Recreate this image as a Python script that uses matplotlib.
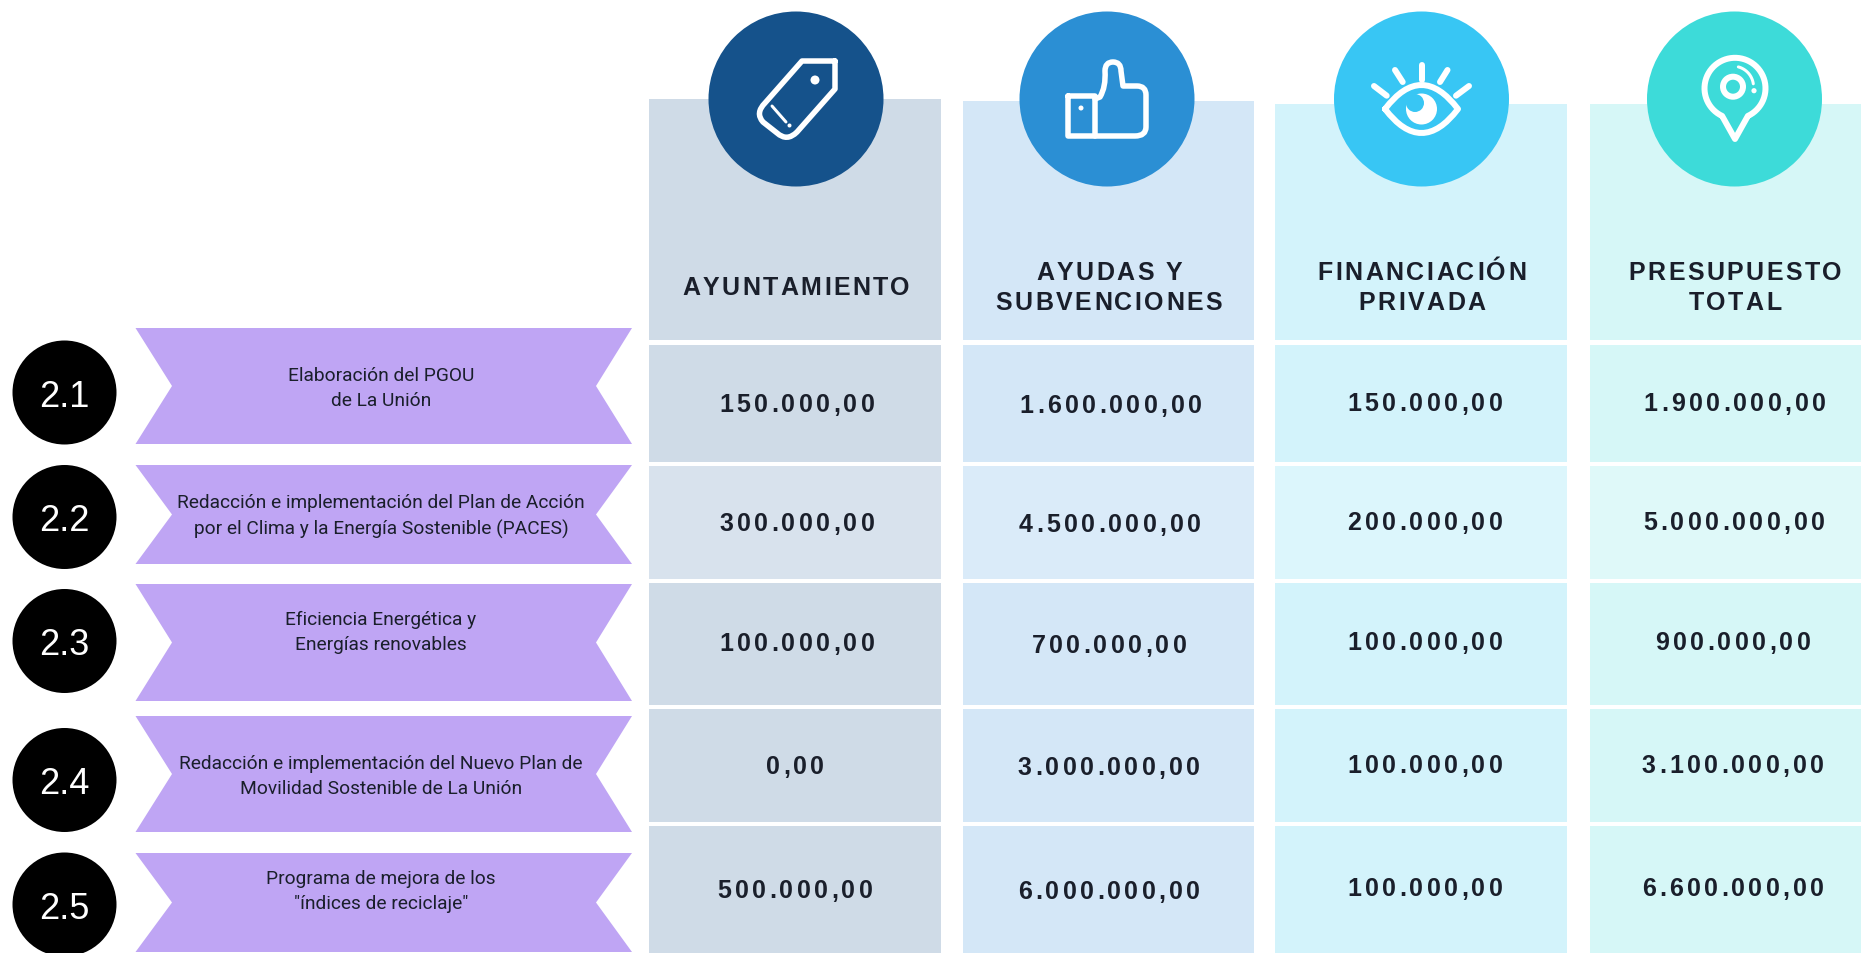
import numpy as np
import matplotlib
matplotlib.use("Agg")
import matplotlib.pyplot as plt
from matplotlib.font_manager import findfont, get_font
from matplotlib.ft2font import LoadFlags
from matplotlib.patches import Circle, Polygon, PathPatch, Rectangle
from matplotlib.path import Path
from matplotlib.text import Text

# Table content
codes = ["2.1", "2.2", "2.3", "2.4", "2.5"]
actions = [
    "Elaboración del PGOU\nde La Unión",
    "Redacción e implementación del Plan de Acción\npor el Clima y la Energía Sostenible (PACES)",
    "Eficiencia Energética y\nEnergías renovables",
    "Redacción e implementación del Nuevo Plan de\nMovilidad Sostenible de La Unión",
    "Programa de mejora de los\n\"índices de reciclaje\"",
]
headers = [
    ["AYUNTAMIENTO"],
    ["AYUDAS Y", "SUBVENCIONES"],
    ["FINANCIACIÓN", "PRIVADA"],
    ["PRESUPUESTO", "TOTAL"],
]
ayuntamiento = [150000, 300000, 100000, 0, 500000]
ayudas = [1600000, 4500000, 700000, 3000000, 6000000]
privada = [150000, 200000, 100000, 100000, 100000]
total = [1900000, 5000000, 900000, 3100000, 6600000]

# Layout in pixels of the 1861x954 picture
col_left = [649, 963, 1275, 1590]
col_right = [941, 1254, 1567, 1861]
col_top = [100, 102, 105, 105]
header_bottom = 341
row_top = [346, 467, 584, 710, 827]
row_bottom = [463, 580, 706, 823, 954]
icon_x = [796, 1107, 1421.5, 1734.5]
icon_y = 100
icon_r = 87.5
head_x = [796, 1109, 1422, 1735]
value_x = [
    [797, 797, 797, 795, 795],
    [1111, 1110, 1109, 1109, 1109],
    [1425, 1425, 1425, 1425, 1425],
    [1735, 1734, 1733, 1733, 1733],
]
value_y = [
    [404, 523, 643, 766, 890],
    [405, 524, 645, 767, 891],
    [403, 522, 642, 765, 888],
    [403, 522, 642, 765, 888],
]
ribbon_top = [329, 466, 585, 717, 854]
ribbon_bottom = [445, 565, 702, 833, 953]
ribbon_text_y = [388.5, 516.5, 632.5, 776.5, 891.5]
badge_y = [393.5, 518, 642, 781, 905.5]

# Colours
cell_colors = ["#CFDBE7", "#D4E7F7", "#D3F3FB", "#D6F7F7"]
cell_light = ["#D8E2ED", "#DAEBF9", "#DCF6FC", "#DFF9F9"]
icon_colors = ["#15528B", "#2B8FD4", "#38C6F4", "#3DDBD9"]
ribbon_color = "#BFA5F4"
ink = "#1A1F2B"


def px(w):
    return w * 0.72


def money(v):
    return f"{v:,.2f}".replace(",", "#").replace(".", ",").replace("#", ".")


class SpacedText(Text):
    """Text with letter spacing, the axes are 1:1 with pixels here."""

    track = 0

    def draw(self, renderer):
        s, x0 = self.get_text(), self._x
        font = get_font(findfont(self.get_fontproperties()))
        font.set_size(self.get_fontsize(), self.get_figure().dpi)
        adv = [font.load_char(ord(c), flags=LoadFlags.NO_HINTING).linearHoriAdvance / 65536 for c in s]
        x = x0 - (sum(adv) + self.track * (len(s) - 1)) / 2
        self.set_ha("left")
        for c, a in zip(s, adv):
            self._text, self._x = c, x
            super().draw(renderer)
            x += a + self.track
        self._text, self._x = s, x0
        self.set_ha("center")


def spaced(ax, x, y, s, track, size=18):
    t = SpacedText(x, y + 8.5, s, fontsize=size, family="Liberation Sans", weight="bold",
                   color=ink, ha="center", va="baseline", zorder=5)
    t.track = track
    ax.add_artist(t)


def line(ax, pts, w=5.5, closed=False):
    xy = np.array(pts, dtype=float)
    ax.add_patch(Polygon(xy, closed=closed, fill=False, ec="white", lw=px(w),
                         joinstyle="round", capstyle="round", zorder=4))


def curve(ax, verts, codes_, w=5.5):
    ax.add_patch(PathPatch(Path(verts, codes_), fill=False, ec="white", lw=px(w),
                           joinstyle="round", capstyle="round", zorder=4))


def dot(ax, x, y, r, color="white"):
    ax.add_patch(Circle((x, y), r, fc=color, ec="none", zorder=4))


def arc_pts(cx, cy, r, a0, a1):
    a = np.radians(np.linspace(a0, a1, 60))
    return np.column_stack([cx + r * np.cos(a), cy + r * np.sin(a)])


def tag_icon(ax):
    M, L, Q = Path.MOVETO, Path.LINETO, Path.CURVE3
    verts = [(835, 62), (802, 62), (765, 104), (755, 114), (763, 123), (777, 134),
             (787, 143), (797, 133), (835, 90), (835, 62)]
    kinds = [M, L, L, Q, Q, L, Q, Q, L, L]
    curve(ax, verts, kinds, 5.5)
    dot(ax, 815, 81, 4.5)
    line(ax, [(772, 107), (786, 123)], 3)
    dot(ax, 789.5, 126.5, 2)


def thumb_icon(ax):
    M, L, Q = Path.MOVETO, Path.LINETO, Path.CURVE3
    verts = [(1068, 97), (1095, 97), (1095, 137), (1068, 137), (1068, 97)]
    curve(ax, verts, [M, L, L, L, L], 5.5)
    dot(ax, 1081, 109, 2.5)
    verts = [(1095, 100), (1100, 98), (1106, 88), (1105, 72), (1105, 63), (1113, 63), (1121, 63), (1121, 72),
             (1123, 87), (1137, 87), (1146, 87), (1146, 96), (1146, 128), (1146, 137), (1135, 137), (1095, 137)]
    kinds = [M, L, Q, Q, Q, Q, Q, Q, L, L, Q, Q, L, Q, Q, L]
    curve(ax, verts, kinds, 5.5)


def eye_icon(ax):
    M, Q = Path.MOVETO, Path.CURVE3
    verts = [(1385, 110), (1421.5, 62), (1458, 110), (1421.5, 158), (1385, 110)]
    curve(ax, verts, [M, Q, Q, Q, Q], 6)
    dot(ax, 1421.5, 110, 15.5)
    dot(ax, 1415, 104, 9, icon_colors[2])
    rays = [((1421.7, 66), (1421.7, 81)), ((1395, 71), (1402.7, 83)), ((1447.5, 71), (1440, 83)),
            ((1374, 87), (1386.7, 96.7)), ((1469, 87), (1456, 96.7))]
    for r in rays:
        line(ax, r, 6)


def pin_icon(ax):
    head = arc_pts(1735, 89.3, 30.5, 115, 425)
    line(ax, list(head) + [(1735, 140)], 6, closed=True)
    ax.add_patch(Circle((1733, 87.7), 10, fill=False, ec="white", lw=px(6), zorder=4))
    line(ax, arc_pts(1733, 87.7, 20.5, -75, -8), 3)
    dot(ax, 1754, 91.7, 2.6)


fig = plt.figure(figsize=(18.61, 9.54), dpi=100)
ax = fig.add_axes([0, 0, 1, 1])
ax.set_xlim(0, 1861)
ax.set_ylim(954, 0)
ax.axis("off")

columns = [ayuntamiento, ayudas, privada, total]
for c, values in enumerate(columns):
    w = col_right[c] - col_left[c]
    ax.add_patch(Rectangle((col_left[c], col_top[c]), w, header_bottom - col_top[c],
                           fc=cell_colors[c], ec="none", zorder=1))
    for r, v in enumerate(values):
        # second row is a lighter tint
        color = cell_light[c] if r == 1 else cell_colors[c]
        ax.add_patch(Rectangle((col_left[c], row_top[r]), w, row_bottom[r] - row_top[r],
                               fc=color, ec="none", zorder=1))
        spaced(ax, value_x[c][r], value_y[c][r], money(v), 3.3)
    ax.add_patch(Circle((icon_x[c], icon_y), icon_r, fc=icon_colors[c], ec="none", zorder=3))
    if len(headers[c]) == 1:
        spaced(ax, head_x[c], 287, headers[c][0], 2.4)
    else:
        spaced(ax, head_x[c], 272, headers[c][0], 2.4)
        spaced(ax, head_x[c], 302, headers[c][1], 2.4)

tag_icon(ax)
thumb_icon(ax)
eye_icon(ax)
pin_icon(ax)

for i, code in enumerate(codes):
    t, b = ribbon_top[i], ribbon_bottom[i]
    m = (t + b) / 2
    ax.add_patch(Polygon([(135.5, t), (632, t), (596, m), (632, b), (135.5, b), (172, m)],
                         closed=True, fc=ribbon_color, ec="none", zorder=1))
    ax.text(381, ribbon_text_y[i], actions[i], fontsize=13.8, family="Roboto", color=ink,
            ha="center", va="center", linespacing=1.55, zorder=5)
    ax.add_patch(Circle((64.5, badge_y[i]), 52, fc="black", ec="none", zorder=3))
    ax.text(64, badge_y[i], code, fontsize=26, family="Liberation Sans", color="white",
            ha="center", va="center_baseline", zorder=5)

fig.savefig("out.png", dpi=100)
